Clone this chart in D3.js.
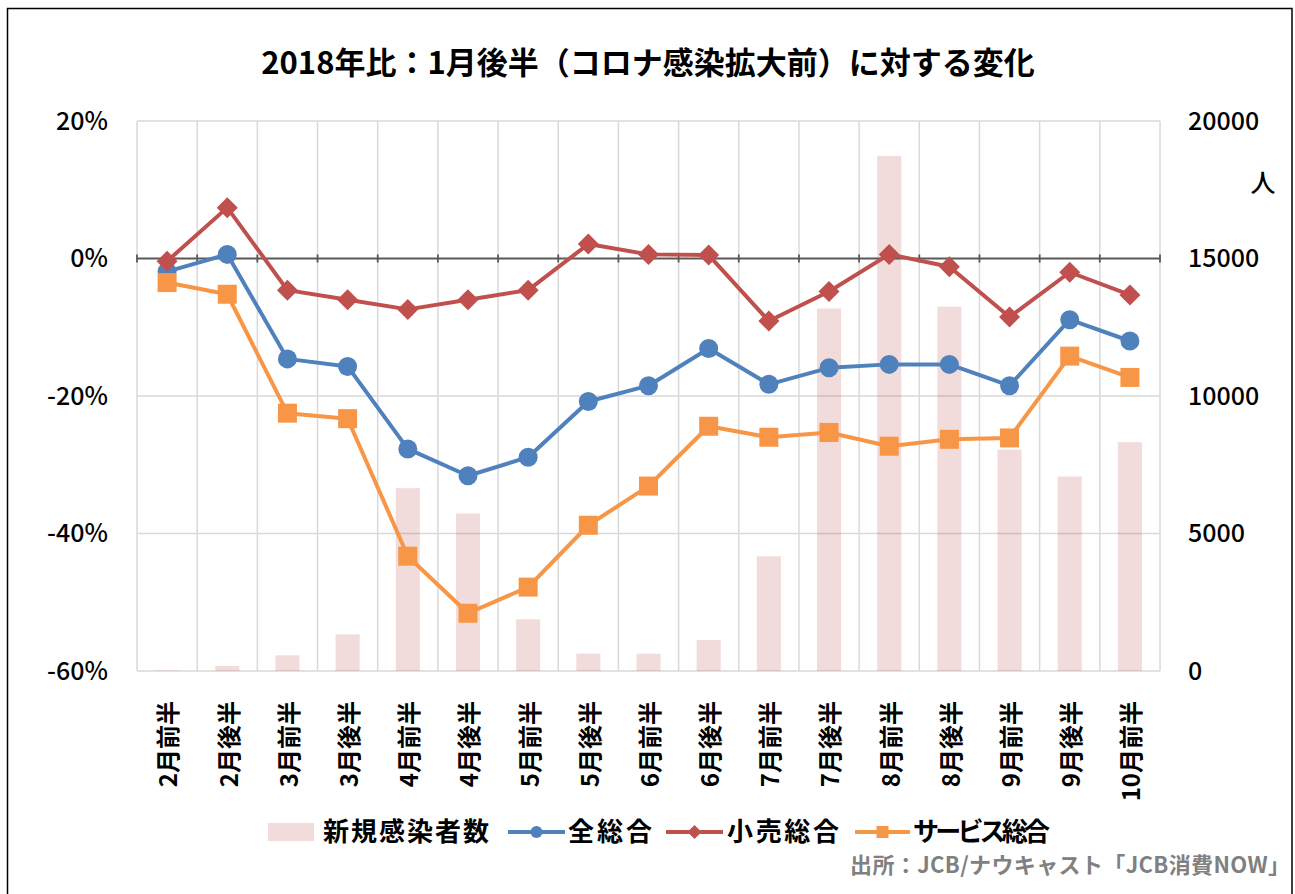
<!DOCTYPE html>
<html>
<head>
<meta charset="utf-8">
<script src="https://cdn.jsdelivr.net/npm/d3@7"></script>
<style>
  body { margin: 0; background: #fff; }
  svg text { font-family: "Noto Sans CJK JP", "Noto Sans", sans-serif; }
</style>
</head>
<body>
<div id="graph"></div>
<script>
// データ（2018年比、1月後半に対する変化）
var categories = ["2月前半", "2月後半", "3月前半", "3月後半", "4月前半", "4月後半", "5月前半", "5月後半",
  "6月前半", "6月後半", "7月前半", "7月後半", "8月前半", "8月後半", "9月前半", "9月後半", "10月前半"];
var newCases = [20, 180, 570, 1330, 6650, 5730, 1880, 630, 630, 1130, 4170, 13180, 18730, 13250, 8050, 7070, 8320];
var totalAll = [-1.9, 0.6, -14.6, -15.7, -27.7, -31.6, -28.9, -20.8, -18.5, -13.1, -18.3, -15.9, -15.4, -15.4, -18.5, -8.9, -12.0];
var retailAll = [-0.4, 7.4, -4.6, -6.0, -7.4, -6.0, -4.6, 2.1, 0.6, 0.5, -9.1, -4.8, 0.6, -1.2, -8.5, -2.0, -5.3];
var serviceAll = [-3.5, -5.2, -22.5, -23.3, -43.3, -51.6, -47.8, -38.8, -33.1, -24.4, -26.0, -25.3, -27.3, -26.3, -26.1, -14.2, -17.3];
var leftTicks = [20, 0, -20, -40, -60];
var rightTicks = [20000, 15000, 10000, 5000, 0];

var W = 1295, H = 894;
// window.top と衝突しないように名前を変える
var plotLeft = 137, plotRight = 1160, plotTop = 121, plotBottom = 671;

var svg = d3.select('#graph').append('svg')
  .attr('width', W).attr('height', H);

// 外枠
svg.append('rect')
  .attr('x', 7.5).attr('y', 8.5).attr('width', 1284.5).attr('height', 900)
  .attr('fill', 'none').attr('stroke', '#000').attr('stroke-width', 1.5);

var x = d3.scaleBand().domain(categories).range([plotLeft, plotRight]).padding(0);
var xBar = d3.scaleBand().domain(categories).range([plotLeft, plotRight]).paddingInner(0.6).paddingOuter(0.3);
var y = d3.scaleLinear().domain([-60, 20]).range([plotBottom, plotTop]);
var y2 = d3.scaleLinear().domain([0, 20000]).range([plotBottom, plotTop]);
var cx = function (d, i) { return x(categories[i]) + x.bandwidth() / 2; };

// タイトル
svg.append('text')
  .attr('x', 648).attr('y', 74)
  .attr('text-anchor', 'middle')
  .attr('font-size', 31).attr('font-weight', 700).attr('fill', '#000')
  .text('2018年比：1月後半（コロナ感染拡大前）に対する変化');

// グリッド
var grid = svg.append('g');
grid.selectAll('.hgrid')
  .data(leftTicks.filter(function (t) { return t !== 0; }))
  .enter().append('line')
  .attr('x1', plotLeft).attr('x2', plotRight)
  .attr('y1', function (d) { return y(d); }).attr('y2', function (d) { return y(d); })
  .attr('stroke', '#D9D9D9').attr('stroke-width', 1.5);
var bounds = categories.map(function (c) { return x(c); }).concat([plotRight]);
grid.selectAll('.vgrid')
  .data(bounds)
  .enter().append('line')
  .attr('x1', function (d) { return d; }).attr('x2', function (d) { return d; })
  .attr('y1', plotTop).attr('y2', plotBottom)
  .attr('stroke', '#D9D9D9').attr('stroke-width', 1.5);

// 新規感染者数（棒）
svg.append('g').selectAll('rect')
  .data(newCases)
  .enter().append('rect')
  .attr('x', function (d, i) { return xBar(categories[i]); })
  .attr('width', xBar.bandwidth())
  .attr('y', function (d) { return y2(d); })
  .attr('height', function (d) { return y2(0) - y2(d); })
  .attr('fill', '#C0504D').attr('fill-opacity', 0.2);

// 0%軸
svg.append('line')
  .attr('x1', plotLeft).attr('x2', plotRight).attr('y1', y(0)).attr('y2', y(0))
  .attr('stroke', '#595959').attr('stroke-width', 1.8);
svg.append('g').selectAll('line')
  .data(bounds)
  .enter().append('line')
  .attr('x1', function (d) { return d; }).attr('x2', function (d) { return d; })
  .attr('y1', y(0) - 4).attr('y2', y(0) + 4)
  .attr('stroke', '#595959').attr('stroke-width', 1.8);

// 左軸
svg.append('g').selectAll('text')
  .data(leftTicks)
  .enter().append('text')
  .attr('x', 108).attr('y', function (d) { return y(d); })
  .attr('dy', '0.35em').attr('text-anchor', 'end')
  .attr('font-size', 25).attr('font-weight', 500).attr('fill', '#000')
  .text(function (d) { return d + '%'; });

// 右軸
svg.append('g').selectAll('text')
  .data(rightTicks)
  .enter().append('text')
  .attr('x', 1188).attr('y', function (d) { return y2(d); })
  .attr('dy', '0.35em').attr('text-anchor', 'start')
  .attr('font-size', 25).attr('font-weight', 500).attr('fill', '#000')
  .text(function (d) { return d; });
svg.append('text')
  .attr('x', 1263).attr('y', 183).attr('dy', '0.35em')
  .attr('text-anchor', 'middle').attr('font-size', 25).attr('font-weight', 500).attr('fill', '#000')
  .text('人');

// X軸ラベル（縦書き）
svg.append('g').selectAll('text')
  .data(categories)
  .enter().append('text')
  .attr('transform', function (d, i) { return 'translate(' + (cx(d, i) + 2) + ',701) rotate(-90)'; })
  .attr('text-anchor', 'end').attr('dy', '0.35em')
  .attr('font-size', 24).attr('font-weight', 700).attr('fill', '#000')
  .text(function (d) { return d; });

// 折れ線
var series = [
  { name: '全総合', values: totalAll, color: '#4F81BD', shape: 'circle' },
  { name: '小売総合', values: retailAll, color: '#C0504D', shape: 'diamond' },
  { name: 'サービス総合', values: serviceAll, color: '#F79646', shape: 'square' }
];

var line = d3.line()
  .x(function (d, i) { return cx(d, i); })
  .y(function (d) { return y(d); });

function marker(g, shape, size, color) {
  if (shape === 'circle') {
    g.append('circle').attr('r', size / 2).attr('fill', color);
  } else if (shape === 'square') {
    g.append('rect').attr('x', -size / 2).attr('y', -size / 2)
      .attr('width', size).attr('height', size).attr('fill', color);
  } else {
    var h = size / 2 + 1;
    g.append('path').attr('d', 'M0,' + (-h) + 'L' + h + ',0L0,' + h + 'L' + (-h) + ',0Z').attr('fill', color);
  }
}

series.forEach(function (s) {
  svg.append('path')
    .datum(s.values)
    .attr('d', line)
    .attr('fill', 'none').attr('stroke', s.color).attr('stroke-width', 4)
    .attr('stroke-linejoin', 'round');
  s.values.forEach(function (v, i) {
    var g = svg.append('g').attr('transform', 'translate(' + cx(v, i) + ',' + y(v) + ')');
    marker(g, s.shape, 19, s.color);
  });
});

// 凡例
var legend = svg.append('g').attr('transform', 'translate(0,832)');
legend.append('rect')
  .attr('x', 268).attr('y', -9).attr('width', 46).attr('height', 18)
  .attr('fill', '#C0504D').attr('fill-opacity', 0.2);
legend.append('text')
  .attr('x', 323).attr('y', 0).attr('dy', '0.35em')
  .attr('font-size', 26).attr('font-weight', 700).attr('textLength', 166)
  .text('新規感染者数');
var legendPos = [{ x1: 508, x2: 565, tx: 568, tl: 84 }, { x1: 666, x2: 723, tx: 727, tl: 112 }, { x1: 855, x2: 910, tx: 913, tl: 137 }];
series.forEach(function (s, i) {
  var p = legendPos[i];
  legend.append('line')
    .attr('x1', p.x1).attr('x2', p.x2).attr('y1', 0).attr('y2', 0)
    .attr('stroke', s.color).attr('stroke-width', 4);
  var g = legend.append('g').attr('transform', 'translate(' + ((p.x1 + p.x2) / 2) + ',0)');
  marker(g, s.shape, 12, s.color);
  legend.append('text')
    .attr('x', p.tx).attr('y', 0).attr('dy', '0.35em')
    .attr('font-size', 26).attr('font-weight', 700).attr('textLength', p.tl)
    .text(s.name);
});

// 出所
svg.append('text')
  .attr('x', 1290).attr('y', 865).attr('dy', '0.35em')
  .attr('text-anchor', 'end').attr('font-size', 22).attr('font-weight', 700).attr('fill', '#808080')
  .attr('textLength', 440)
  .text('出所：JCB/ナウキャスト「JCB消費NOW」');
</script>
</body>
</html>
